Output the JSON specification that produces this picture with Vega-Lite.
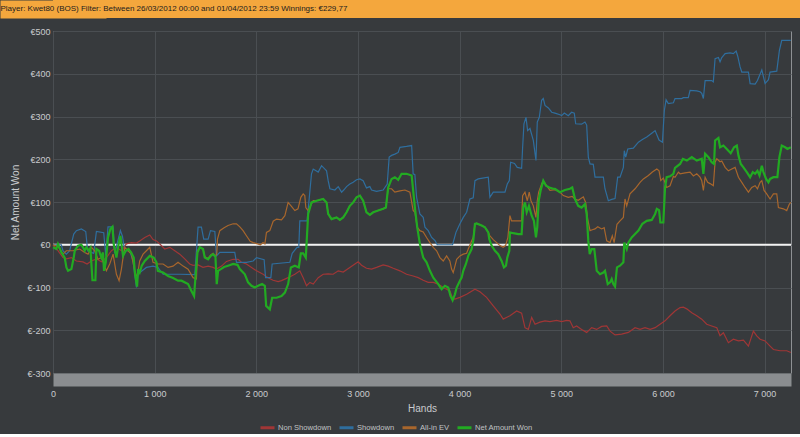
{
  "$schema": "https://vega.github.io/schema/vega-lite/v6.json",
  "background": "#373a3d",
  "padding": 0,
  "spacing": 8,
  "config": {
    "font": "Liberation Sans",
    "view": {"stroke": null},
    "axis": {
      "labelFont": "Liberation Sans",
      "labelFontSize": 9,
      "labelColor": "#c9cbcd",
      "titleFont": "Liberation Sans",
      "titleFontSize": 10,
      "titleFontWeight": "normal",
      "titleColor": "#c9cbcd",
      "gridColor": "#4a4e52",
      "gridWidth": 1,
      "ticks": false,
      "domain": false
    },
    "legend": {
      "labelFont": "Liberation Sans",
      "labelFontSize": 7.6,
      "labelColor": "#c0c2c4",
      "symbolType": "stroke",
      "symbolStrokeWidth": 3,
      "symbolSize": 196,
      "labelOffset": 2,
      "columnPadding": 1
    }
  },
  "datasets": {
    "nonshowdown": [
      {"hands": 0, "amount": 0}, {"hands": 49, "amount": -14}, {"hands": 98, "amount": -30}, {"hands": 131, "amount": -33},
      {"hands": 181, "amount": -30}, {"hands": 230, "amount": -38}, {"hands": 295, "amount": -40}, {"hands": 335, "amount": -45},
      {"hands": 378, "amount": -38}, {"hands": 427, "amount": -33}, {"hands": 476, "amount": -40}, {"hands": 525, "amount": -30},
      {"hands": 575, "amount": -14}, {"hands": 624, "amount": -6}, {"hands": 673, "amount": -14}, {"hands": 722, "amount": 2},
      {"hands": 771, "amount": 5}, {"hands": 821, "amount": 4}, {"hands": 853, "amount": 9}, {"hands": 903, "amount": 17},
      {"hands": 952, "amount": 23}, {"hands": 984, "amount": 12}, {"hands": 1018, "amount": 9}, {"hands": 1050, "amount": 2},
      {"hands": 1099, "amount": -10}, {"hands": 1149, "amount": -6}, {"hands": 1198, "amount": -14}, {"hands": 1247, "amount": -22},
      {"hands": 1296, "amount": -33}, {"hands": 1345, "amount": -45}, {"hands": 1378, "amount": -48}, {"hands": 1427, "amount": -47},
      {"hands": 1476, "amount": -53}, {"hands": 1526, "amount": -50}, {"hands": 1575, "amount": -53}, {"hands": 1608, "amount": -57},
      {"hands": 1658, "amount": -50}, {"hands": 1707, "amount": -39}, {"hands": 1772, "amount": -34}, {"hands": 1821, "amount": -34},
      {"hands": 1854, "amount": -41}, {"hands": 1903, "amount": -45}, {"hands": 1953, "amount": -53}, {"hands": 2002, "amount": -61},
      {"hands": 2067, "amount": -69}, {"hands": 2116, "amount": -77}, {"hands": 2165, "amount": -83}, {"hands": 2215, "amount": -86},
      {"hands": 2248, "amount": -84}, {"hands": 2313, "amount": -77}, {"hands": 2379, "amount": -69}, {"hands": 2428, "amount": -61},
      {"hands": 2461, "amount": -77}, {"hands": 2494, "amount": -96}, {"hands": 2527, "amount": -88}, {"hands": 2560, "amount": -92},
      {"hands": 2609, "amount": -77}, {"hands": 2658, "amount": -69}, {"hands": 2707, "amount": -68}, {"hands": 2756, "amount": -69},
      {"hands": 2806, "amount": -61}, {"hands": 2855, "amount": -64}, {"hands": 2920, "amount": -53}, {"hands": 2970, "amount": -45},
      {"hands": 3002, "amount": -40}, {"hands": 3035, "amount": -48}, {"hands": 3084, "amount": -55}, {"hands": 3134, "amount": -57},
      {"hands": 3183, "amount": -53}, {"hands": 3248, "amount": -47}, {"hands": 3297, "amount": -50}, {"hands": 3347, "amount": -55},
      {"hands": 3413, "amount": -61}, {"hands": 3478, "amount": -69}, {"hands": 3543, "amount": -73}, {"hands": 3593, "amount": -77},
      {"hands": 3642, "amount": -83}, {"hands": 3691, "amount": -88}, {"hands": 3741, "amount": -88}, {"hands": 3790, "amount": -92},
      {"hands": 3839, "amount": -100}, {"hands": 3904, "amount": -108}, {"hands": 3931, "amount": -125}, {"hands": 3954, "amount": -127},
      {"hands": 4003, "amount": -123}, {"hands": 4069, "amount": -116}, {"hands": 4151, "amount": -104}, {"hands": 4200, "amount": -110},
      {"hands": 4265, "amount": -123}, {"hands": 4331, "amount": -143}, {"hands": 4397, "amount": -162}, {"hands": 4429, "amount": -174},
      {"hands": 4495, "amount": -166}, {"hands": 4561, "amount": -155}, {"hands": 4610, "amount": -160}, {"hands": 4643, "amount": -194},
      {"hands": 4676, "amount": -198}, {"hands": 4709, "amount": -170}, {"hands": 4742, "amount": -186}, {"hands": 4790, "amount": -181},
      {"hands": 4840, "amount": -178}, {"hands": 4888, "amount": -180}, {"hands": 4954, "amount": -177}, {"hands": 5004, "amount": -180},
      {"hands": 5053, "amount": -177}, {"hands": 5085, "amount": -178}, {"hands": 5118, "amount": -194}, {"hands": 5151, "amount": -190},
      {"hands": 5200, "amount": -198}, {"hands": 5250, "amount": -205}, {"hands": 5299, "amount": -194}, {"hands": 5348, "amount": -198},
      {"hands": 5397, "amount": -191}, {"hands": 5447, "amount": -190}, {"hands": 5480, "amount": -202}, {"hands": 5529, "amount": -211},
      {"hands": 5594, "amount": -209}, {"hands": 5660, "amount": -205}, {"hands": 5726, "amount": -194}, {"hands": 5775, "amount": -198},
      {"hands": 5824, "amount": -194}, {"hands": 5874, "amount": -198}, {"hands": 5923, "amount": -194}, {"hands": 5972, "amount": -186},
      {"hands": 6021, "amount": -178}, {"hands": 6070, "amount": -166}, {"hands": 6119, "amount": -155}, {"hands": 6169, "amount": -147},
      {"hands": 6201, "amount": -146}, {"hands": 6234, "amount": -150}, {"hands": 6284, "amount": -159}, {"hands": 6333, "amount": -166},
      {"hands": 6382, "amount": -174}, {"hands": 6431, "amount": -186}, {"hands": 6480, "amount": -190}, {"hands": 6530, "amount": -194},
      {"hands": 6562, "amount": -213}, {"hands": 6595, "amount": -206}, {"hands": 6644, "amount": -229}, {"hands": 6693, "amount": -221},
      {"hands": 6743, "amount": -225}, {"hands": 6792, "amount": -223}, {"hands": 6841, "amount": -237}, {"hands": 6890, "amount": -202},
      {"hands": 6923, "amount": -213}, {"hands": 6956, "amount": -221}, {"hands": 7005, "amount": -225}, {"hands": 7054, "amount": -237},
      {"hands": 7087, "amount": -245}, {"hands": 7153, "amount": -248}, {"hands": 7218, "amount": -248}, {"hands": 7258, "amount": -252}
    ],
    "showdown": [
      {"hands": 0, "amount": 0}, {"hands": 82, "amount": 0}, {"hands": 98, "amount": -14}, {"hands": 131, "amount": -22},
      {"hands": 164, "amount": -14}, {"hands": 204, "amount": 25}, {"hands": 230, "amount": 33}, {"hands": 279, "amount": 37},
      {"hands": 322, "amount": 31}, {"hands": 341, "amount": -14}, {"hands": 400, "amount": -20}, {"hands": 427, "amount": 31},
      {"hands": 499, "amount": 28}, {"hands": 519, "amount": -25}, {"hands": 541, "amount": 42}, {"hands": 591, "amount": 42},
      {"hands": 607, "amount": -20}, {"hands": 663, "amount": 33}, {"hands": 683, "amount": 20}, {"hands": 706, "amount": -14},
      {"hands": 755, "amount": -14}, {"hands": 787, "amount": -38}, {"hands": 821, "amount": -100}, {"hands": 837, "amount": -69},
      {"hands": 870, "amount": -62}, {"hands": 919, "amount": -53}, {"hands": 984, "amount": -50}, {"hands": 1033, "amount": -53},
      {"hands": 1083, "amount": -69}, {"hands": 1247, "amount": -69}, {"hands": 1395, "amount": -70}, {"hands": 1427, "amount": 41},
      {"hands": 1460, "amount": 41}, {"hands": 1483, "amount": 13}, {"hands": 1526, "amount": 13}, {"hands": 1549, "amount": 33},
      {"hands": 1592, "amount": 31}, {"hands": 1608, "amount": -26}, {"hands": 1641, "amount": -18}, {"hands": 1788, "amount": -18},
      {"hands": 1805, "amount": -41}, {"hands": 1903, "amount": -41}, {"hands": 1969, "amount": -38}, {"hands": 2002, "amount": -30},
      {"hands": 2077, "amount": -35}, {"hands": 2091, "amount": -77}, {"hands": 2143, "amount": -77}, {"hands": 2156, "amount": -45},
      {"hands": 2330, "amount": -41}, {"hands": 2353, "amount": -20}, {"hands": 2400, "amount": -6}, {"hands": 2418, "amount": -6},
      {"hands": 2428, "amount": 56}, {"hands": 2500, "amount": 56}, {"hands": 2543, "amount": 166}, {"hands": 2560, "amount": 177},
      {"hands": 2609, "amount": 170}, {"hands": 2642, "amount": 185}, {"hands": 2675, "amount": 177}, {"hands": 2691, "amount": 173},
      {"hands": 2707, "amount": 150}, {"hands": 2724, "amount": 131}, {"hands": 2773, "amount": 128}, {"hands": 2806, "amount": 136},
      {"hands": 2839, "amount": 123}, {"hands": 2860, "amount": 128}, {"hands": 2888, "amount": 136}, {"hands": 2920, "amount": 142},
      {"hands": 2953, "amount": 146}, {"hands": 2986, "amount": 152}, {"hands": 3019, "amount": 154}, {"hands": 3051, "amount": 150},
      {"hands": 3084, "amount": 133}, {"hands": 3117, "amount": 136}, {"hands": 3134, "amount": 128}, {"hands": 3183, "amount": 125},
      {"hands": 3248, "amount": 128}, {"hands": 3288, "amount": 142}, {"hands": 3307, "amount": 205}, {"hands": 3331, "amount": 209},
      {"hands": 3363, "amount": 212}, {"hands": 3396, "amount": 216}, {"hands": 3413, "amount": 228}, {"hands": 3478, "amount": 230},
      {"hands": 3528, "amount": 232}, {"hands": 3543, "amount": 166}, {"hands": 3560, "amount": 164}, {"hands": 3577, "amount": 111},
      {"hands": 3609, "amount": 72}, {"hands": 3642, "amount": 64}, {"hands": 3659, "amount": 41}, {"hands": 3691, "amount": 33},
      {"hands": 3725, "amount": 17}, {"hands": 3757, "amount": 10}, {"hands": 3780, "amount": 0}, {"hands": 3931, "amount": 0},
      {"hands": 3964, "amount": 29}, {"hands": 4003, "amount": 49}, {"hands": 4036, "amount": 64}, {"hands": 4069, "amount": 76},
      {"hands": 4101, "amount": 107}, {"hands": 4134, "amount": 110}, {"hands": 4151, "amount": 150}, {"hands": 4183, "amount": 154},
      {"hands": 4282, "amount": 158}, {"hands": 4298, "amount": 111}, {"hands": 4331, "amount": 123}, {"hands": 4446, "amount": 123},
      {"hands": 4469, "amount": 142}, {"hands": 4489, "amount": 150}, {"hands": 4502, "amount": 193}, {"hands": 4540, "amount": 190},
      {"hands": 4567, "amount": 181}, {"hands": 4610, "amount": 179}, {"hands": 4620, "amount": 228}, {"hands": 4633, "amount": 283},
      {"hands": 4653, "amount": 298}, {"hands": 4669, "amount": 267}, {"hands": 4692, "amount": 272}, {"hands": 4725, "amount": 244},
      {"hands": 4751, "amount": 197}, {"hands": 4764, "amount": 287}, {"hands": 4784, "amount": 298}, {"hands": 4807, "amount": 338},
      {"hands": 4823, "amount": 342}, {"hands": 4840, "amount": 326}, {"hands": 4873, "amount": 320}, {"hands": 4906, "amount": 310},
      {"hands": 4938, "amount": 308}, {"hands": 4987, "amount": 304}, {"hands": 5004, "amount": 302}, {"hands": 5030, "amount": 308},
      {"hands": 5069, "amount": 302}, {"hands": 5102, "amount": 310}, {"hands": 5128, "amount": 308}, {"hands": 5142, "amount": 283},
      {"hands": 5200, "amount": 282}, {"hands": 5233, "amount": 287}, {"hands": 5250, "amount": 280}, {"hands": 5266, "amount": 205},
      {"hands": 5283, "amount": 189}, {"hands": 5315, "amount": 188}, {"hands": 5332, "amount": 158}, {"hands": 5414, "amount": 158},
      {"hands": 5430, "amount": 131}, {"hands": 5463, "amount": 103}, {"hands": 5496, "amount": 106}, {"hands": 5529, "amount": 108},
      {"hands": 5555, "amount": 158}, {"hands": 5578, "amount": 158}, {"hands": 5611, "amount": 181}, {"hands": 5620, "amount": 220},
      {"hands": 5634, "amount": 205}, {"hands": 5654, "amount": 224}, {"hands": 5709, "amount": 226}, {"hands": 5759, "amount": 240},
      {"hands": 5798, "amount": 246}, {"hands": 5841, "amount": 252}, {"hands": 5890, "amount": 261}, {"hands": 5923, "amount": 267},
      {"hands": 5962, "amount": 245}, {"hands": 5995, "amount": 240}, {"hands": 6014, "amount": 314}, {"hands": 6031, "amount": 339},
      {"hands": 6053, "amount": 330}, {"hands": 6103, "amount": 332}, {"hands": 6119, "amount": 342}, {"hands": 6185, "amount": 342},
      {"hands": 6201, "amount": 344}, {"hands": 6250, "amount": 344}, {"hands": 6267, "amount": 361}, {"hands": 6333, "amount": 360},
      {"hands": 6365, "amount": 358}, {"hands": 6382, "amount": 354}, {"hands": 6398, "amount": 342}, {"hands": 6415, "amount": 384},
      {"hands": 6480, "amount": 384}, {"hands": 6496, "amount": 381}, {"hands": 6513, "amount": 435}, {"hands": 6546, "amount": 438},
      {"hands": 6562, "amount": 428}, {"hands": 6579, "amount": 438}, {"hands": 6612, "amount": 447}, {"hands": 6661, "amount": 449},
      {"hands": 6693, "amount": 447}, {"hands": 6720, "amount": 453}, {"hands": 6736, "amount": 441}, {"hands": 6759, "amount": 416},
      {"hands": 6776, "amount": 404}, {"hands": 6841, "amount": 404}, {"hands": 6858, "amount": 377}, {"hands": 6907, "amount": 376},
      {"hands": 6930, "amount": 384}, {"hands": 6950, "amount": 396}, {"hands": 6973, "amount": 409}, {"hands": 7005, "amount": 377},
      {"hands": 7038, "amount": 386}, {"hands": 7054, "amount": 404}, {"hands": 7120, "amount": 406}, {"hands": 7146, "amount": 455},
      {"hands": 7169, "amount": 478}, {"hands": 7258, "amount": 478}
    ],
    "allinev": [
      {"hands": 0, "amount": 0}, {"hands": 49, "amount": -4}, {"hands": 98, "amount": -22}, {"hands": 131, "amount": -14},
      {"hands": 197, "amount": -14}, {"hands": 263, "amount": -10}, {"hands": 312, "amount": -18}, {"hands": 345, "amount": -22},
      {"hands": 378, "amount": -6}, {"hands": 410, "amount": -14}, {"hands": 443, "amount": -34}, {"hands": 476, "amount": -30},
      {"hands": 525, "amount": -61}, {"hands": 558, "amount": -45}, {"hands": 591, "amount": -22}, {"hands": 624, "amount": -69},
      {"hands": 650, "amount": -84}, {"hands": 673, "amount": -57}, {"hands": 689, "amount": -30}, {"hands": 706, "amount": -6},
      {"hands": 738, "amount": -14}, {"hands": 771, "amount": -22}, {"hands": 804, "amount": -61}, {"hands": 827, "amount": -77},
      {"hands": 853, "amount": -38}, {"hands": 886, "amount": -22}, {"hands": 919, "amount": -14}, {"hands": 952, "amount": -6},
      {"hands": 984, "amount": -41}, {"hands": 1033, "amount": -45}, {"hands": 1083, "amount": -45}, {"hands": 1132, "amount": -53},
      {"hands": 1181, "amount": -50}, {"hands": 1230, "amount": -41}, {"hands": 1280, "amount": -50}, {"hands": 1329, "amount": -57},
      {"hands": 1378, "amount": -77}, {"hands": 1411, "amount": -80}, {"hands": 1421, "amount": -14}, {"hands": 1444, "amount": -6},
      {"hands": 1476, "amount": -10}, {"hands": 1493, "amount": -28}, {"hands": 1526, "amount": -32}, {"hands": 1552, "amount": -24},
      {"hands": 1575, "amount": -20}, {"hands": 1598, "amount": -26}, {"hands": 1611, "amount": -22}, {"hands": 1618, "amount": 13},
      {"hands": 1641, "amount": 33}, {"hands": 1683, "amount": 40}, {"hands": 1722, "amount": 45}, {"hands": 1772, "amount": 49},
      {"hands": 1805, "amount": 49}, {"hands": 1838, "amount": 42}, {"hands": 1870, "amount": 33}, {"hands": 1903, "amount": 21},
      {"hands": 1940, "amount": 8}, {"hands": 1970, "amount": 5}, {"hands": 2012, "amount": 2}, {"hands": 2040, "amount": 0},
      {"hands": 2067, "amount": 5}, {"hands": 2084, "amount": 2}, {"hands": 2100, "amount": 29}, {"hands": 2133, "amount": 33},
      {"hands": 2166, "amount": 55}, {"hands": 2199, "amount": 60}, {"hands": 2248, "amount": 58}, {"hands": 2281, "amount": 68},
      {"hands": 2313, "amount": 99}, {"hands": 2346, "amount": 90}, {"hands": 2379, "amount": 80}, {"hands": 2410, "amount": 84},
      {"hands": 2438, "amount": 111}, {"hands": 2461, "amount": 119}, {"hands": 2477, "amount": 115}, {"hands": 2487, "amount": 87},
      {"hands": 2510, "amount": 80}, {"hands": 2530, "amount": 90}, {"hands": 2560, "amount": 103}, {"hands": 2593, "amount": 103},
      {"hands": 2658, "amount": 107}, {"hands": 2691, "amount": 99}, {"hands": 2707, "amount": 72}, {"hands": 2740, "amount": 60},
      {"hands": 2789, "amount": 64}, {"hands": 2822, "amount": 58}, {"hands": 2855, "amount": 64}, {"hands": 2888, "amount": 76},
      {"hands": 2920, "amount": 91}, {"hands": 2953, "amount": 99}, {"hands": 2986, "amount": 111}, {"hands": 3019, "amount": 115},
      {"hands": 3051, "amount": 103}, {"hands": 3084, "amount": 76}, {"hands": 3117, "amount": 70}, {"hands": 3150, "amount": 76},
      {"hands": 3199, "amount": 80}, {"hands": 3248, "amount": 84}, {"hands": 3275, "amount": 87}, {"hands": 3297, "amount": 131},
      {"hands": 3331, "amount": 131}, {"hands": 3363, "amount": 123}, {"hands": 3413, "amount": 126}, {"hands": 3462, "amount": 128},
      {"hands": 3511, "amount": 123}, {"hands": 3543, "amount": 80}, {"hands": 3560, "amount": 76}, {"hands": 3583, "amount": 41},
      {"hands": 3609, "amount": 33}, {"hands": 3642, "amount": 30}, {"hands": 3675, "amount": 17}, {"hands": 3708, "amount": 5},
      {"hands": 3741, "amount": -6}, {"hands": 3774, "amount": -14}, {"hands": 3806, "amount": -30}, {"hands": 3839, "amount": -38},
      {"hands": 3872, "amount": -26}, {"hands": 3904, "amount": -38}, {"hands": 3921, "amount": -57}, {"hands": 3937, "amount": -65},
      {"hands": 3954, "amount": -50}, {"hands": 3971, "amount": -34}, {"hands": 4003, "amount": -26}, {"hands": 4036, "amount": -22},
      {"hands": 4069, "amount": -20}, {"hands": 4085, "amount": -10}, {"hands": 4118, "amount": 9}, {"hands": 4134, "amount": 17},
      {"hands": 4151, "amount": 49}, {"hands": 4167, "amount": 50}, {"hands": 4217, "amount": 45}, {"hands": 4249, "amount": 41},
      {"hands": 4282, "amount": 29}, {"hands": 4298, "amount": 21}, {"hands": 4331, "amount": 12}, {"hands": 4364, "amount": 5},
      {"hands": 4397, "amount": -2}, {"hands": 4429, "amount": -6}, {"hands": 4452, "amount": -2}, {"hands": 4475, "amount": 17},
      {"hands": 4495, "amount": 68}, {"hands": 4511, "amount": 56}, {"hands": 4577, "amount": 56}, {"hands": 4610, "amount": 56},
      {"hands": 4620, "amount": 115}, {"hands": 4643, "amount": 123}, {"hands": 4666, "amount": 103}, {"hands": 4685, "amount": 123},
      {"hands": 4702, "amount": 103}, {"hands": 4725, "amount": 91}, {"hands": 4751, "amount": 64}, {"hands": 4764, "amount": 103},
      {"hands": 4778, "amount": 123}, {"hands": 4807, "amount": 142}, {"hands": 4823, "amount": 150}, {"hands": 4856, "amount": 138},
      {"hands": 4889, "amount": 127}, {"hands": 4938, "amount": 129}, {"hands": 4987, "amount": 123}, {"hands": 5020, "amount": 115},
      {"hands": 5069, "amount": 111}, {"hands": 5108, "amount": 113}, {"hands": 5135, "amount": 107}, {"hands": 5167, "amount": 104},
      {"hands": 5217, "amount": 112}, {"hands": 5240, "amount": 99}, {"hands": 5260, "amount": 60}, {"hands": 5283, "amount": 33},
      {"hands": 5306, "amount": 35}, {"hands": 5332, "amount": 37}, {"hands": 5359, "amount": 42}, {"hands": 5397, "amount": 37},
      {"hands": 5422, "amount": 40}, {"hands": 5447, "amount": 9}, {"hands": 5480, "amount": 5}, {"hands": 5502, "amount": 21},
      {"hands": 5520, "amount": 5}, {"hands": 5548, "amount": 48}, {"hands": 5578, "amount": 56}, {"hands": 5611, "amount": 64},
      {"hands": 5627, "amount": 107}, {"hands": 5644, "amount": 91}, {"hands": 5676, "amount": 119}, {"hands": 5726, "amount": 131},
      {"hands": 5775, "amount": 146}, {"hands": 5808, "amount": 154}, {"hands": 5857, "amount": 162}, {"hands": 5896, "amount": 170},
      {"hands": 5940, "amount": 177}, {"hands": 5962, "amount": 173}, {"hands": 5979, "amount": 150}, {"hands": 6004, "amount": 156},
      {"hands": 6037, "amount": 134}, {"hands": 6070, "amount": 138}, {"hands": 6103, "amount": 160}, {"hands": 6119, "amount": 158},
      {"hands": 6152, "amount": 170}, {"hands": 6169, "amount": 166}, {"hands": 6218, "amount": 168}, {"hands": 6267, "amount": 170},
      {"hands": 6300, "amount": 161}, {"hands": 6333, "amount": 166}, {"hands": 6365, "amount": 158}, {"hands": 6382, "amount": 150},
      {"hands": 6398, "amount": 127}, {"hands": 6415, "amount": 158}, {"hands": 6440, "amount": 146}, {"hands": 6464, "amount": 143},
      {"hands": 6496, "amount": 138}, {"hands": 6513, "amount": 193}, {"hands": 6530, "amount": 201}, {"hands": 6562, "amount": 194},
      {"hands": 6579, "amount": 196}, {"hands": 6612, "amount": 181}, {"hands": 6644, "amount": 173}, {"hands": 6677, "amount": 177},
      {"hands": 6710, "amount": 181}, {"hands": 6743, "amount": 158}, {"hands": 6776, "amount": 146}, {"hands": 6808, "amount": 134},
      {"hands": 6841, "amount": 123}, {"hands": 6874, "amount": 134}, {"hands": 6907, "amount": 138}, {"hands": 6930, "amount": 131},
      {"hands": 6956, "amount": 146}, {"hands": 6973, "amount": 150}, {"hands": 6995, "amount": 127}, {"hands": 7021, "amount": 119},
      {"hands": 7054, "amount": 107}, {"hands": 7087, "amount": 119}, {"hands": 7120, "amount": 119}, {"hands": 7136, "amount": 87},
      {"hands": 7185, "amount": 84}, {"hands": 7218, "amount": 80}, {"hands": 7244, "amount": 95}, {"hands": 7258, "amount": 99}
    ],
    "netwon": [
      {"hands": 0, "amount": -6}, {"hands": 33, "amount": -10}, {"hands": 49, "amount": 2}, {"hands": 83, "amount": -18},
      {"hands": 115, "amount": -30}, {"hands": 132, "amount": -53}, {"hands": 148, "amount": -61}, {"hands": 181, "amount": -57},
      {"hands": 204, "amount": -30}, {"hands": 214, "amount": -14}, {"hands": 246, "amount": -2}, {"hands": 279, "amount": 0},
      {"hands": 295, "amount": -6}, {"hands": 312, "amount": -14}, {"hands": 328, "amount": -6}, {"hands": 354, "amount": -14},
      {"hands": 368, "amount": -8}, {"hands": 388, "amount": -83}, {"hands": 417, "amount": -83}, {"hands": 427, "amount": -10},
      {"hands": 453, "amount": -14}, {"hands": 476, "amount": -30}, {"hands": 492, "amount": -18}, {"hands": 502, "amount": -61},
      {"hands": 519, "amount": -41}, {"hands": 541, "amount": 17}, {"hands": 565, "amount": 37}, {"hands": 585, "amount": 42},
      {"hands": 597, "amount": 2}, {"hands": 610, "amount": -14}, {"hands": 624, "amount": -30}, {"hands": 640, "amount": -6},
      {"hands": 663, "amount": 21}, {"hands": 689, "amount": -26}, {"hands": 716, "amount": -14}, {"hands": 742, "amount": -10},
      {"hands": 768, "amount": -18}, {"hands": 794, "amount": -30}, {"hands": 807, "amount": -69}, {"hands": 827, "amount": -98},
      {"hands": 837, "amount": -57}, {"hands": 853, "amount": -65}, {"hands": 873, "amount": -49}, {"hands": 903, "amount": -38},
      {"hands": 952, "amount": -26}, {"hands": 991, "amount": -30}, {"hands": 1018, "amount": -41}, {"hands": 1031, "amount": -61},
      {"hands": 1083, "amount": -65}, {"hands": 1132, "amount": -73}, {"hands": 1181, "amount": -78}, {"hands": 1230, "amount": -84},
      {"hands": 1264, "amount": -84}, {"hands": 1329, "amount": -92}, {"hands": 1362, "amount": -108}, {"hands": 1388, "amount": -120},
      {"hands": 1401, "amount": -77}, {"hands": 1421, "amount": -18}, {"hands": 1444, "amount": -6}, {"hands": 1476, "amount": -10},
      {"hands": 1493, "amount": -30}, {"hands": 1526, "amount": -34}, {"hands": 1552, "amount": -26}, {"hands": 1575, "amount": -22},
      {"hands": 1598, "amount": -28}, {"hands": 1611, "amount": -92}, {"hands": 1624, "amount": -61}, {"hands": 1651, "amount": -57},
      {"hands": 1683, "amount": -52}, {"hands": 1722, "amount": -49}, {"hands": 1772, "amount": -45}, {"hands": 1815, "amount": -47},
      {"hands": 1838, "amount": -57}, {"hands": 1887, "amount": -69}, {"hands": 1919, "amount": -88}, {"hands": 1953, "amount": -96},
      {"hands": 1985, "amount": -100}, {"hands": 2018, "amount": -96}, {"hands": 2057, "amount": -92}, {"hands": 2084, "amount": -96},
      {"hands": 2097, "amount": -143}, {"hands": 2133, "amount": -151}, {"hands": 2156, "amount": -124}, {"hands": 2199, "amount": -124},
      {"hands": 2248, "amount": -120}, {"hands": 2281, "amount": -112}, {"hands": 2313, "amount": -92}, {"hands": 2340, "amount": -53},
      {"hands": 2379, "amount": -49}, {"hands": 2418, "amount": -53}, {"hands": 2438, "amount": -20}, {"hands": 2461, "amount": -20},
      {"hands": 2487, "amount": -30}, {"hands": 2510, "amount": 72}, {"hands": 2543, "amount": 99}, {"hands": 2593, "amount": 103},
      {"hands": 2658, "amount": 107}, {"hands": 2691, "amount": 99}, {"hands": 2707, "amount": 72}, {"hands": 2740, "amount": 60},
      {"hands": 2789, "amount": 64}, {"hands": 2822, "amount": 58}, {"hands": 2855, "amount": 64}, {"hands": 2888, "amount": 76},
      {"hands": 2920, "amount": 91}, {"hands": 2953, "amount": 99}, {"hands": 2986, "amount": 111}, {"hands": 3019, "amount": 115},
      {"hands": 3051, "amount": 103}, {"hands": 3084, "amount": 76}, {"hands": 3117, "amount": 70}, {"hands": 3150, "amount": 76},
      {"hands": 3199, "amount": 80}, {"hands": 3248, "amount": 84}, {"hands": 3275, "amount": 87}, {"hands": 3297, "amount": 134},
      {"hands": 3331, "amount": 154}, {"hands": 3363, "amount": 158}, {"hands": 3396, "amount": 152}, {"hands": 3429, "amount": 166},
      {"hands": 3478, "amount": 166}, {"hands": 3528, "amount": 162}, {"hands": 3543, "amount": 127}, {"hands": 3560, "amount": 87},
      {"hands": 3583, "amount": 41}, {"hands": 3609, "amount": 2}, {"hands": 3642, "amount": -30}, {"hands": 3675, "amount": -41},
      {"hands": 3708, "amount": -61}, {"hands": 3741, "amount": -77}, {"hands": 3790, "amount": -92}, {"hands": 3823, "amount": -104},
      {"hands": 3855, "amount": -96}, {"hands": 3888, "amount": -100}, {"hands": 3911, "amount": -120}, {"hands": 3931, "amount": -130},
      {"hands": 3954, "amount": -116}, {"hands": 3971, "amount": -100}, {"hands": 4003, "amount": -84}, {"hands": 4020, "amount": -77},
      {"hands": 4036, "amount": -61}, {"hands": 4062, "amount": -45}, {"hands": 4085, "amount": -26}, {"hands": 4118, "amount": -10},
      {"hands": 4134, "amount": 9}, {"hands": 4151, "amount": 49}, {"hands": 4167, "amount": 50}, {"hands": 4217, "amount": 45},
      {"hands": 4249, "amount": 41}, {"hands": 4282, "amount": 29}, {"hands": 4292, "amount": 13}, {"hands": 4315, "amount": -2},
      {"hands": 4348, "amount": -14}, {"hands": 4380, "amount": -22}, {"hands": 4413, "amount": -38}, {"hands": 4436, "amount": -53},
      {"hands": 4456, "amount": -49}, {"hands": 4469, "amount": -30}, {"hands": 4489, "amount": -14}, {"hands": 4495, "amount": 29},
      {"hands": 4528, "amount": 27}, {"hands": 4577, "amount": 25}, {"hands": 4610, "amount": 25}, {"hands": 4626, "amount": 87},
      {"hands": 4643, "amount": 99}, {"hands": 4660, "amount": 76}, {"hands": 4682, "amount": 91}, {"hands": 4709, "amount": 68},
      {"hands": 4731, "amount": 56}, {"hands": 4751, "amount": 17}, {"hands": 4764, "amount": 41}, {"hands": 4778, "amount": 103},
      {"hands": 4797, "amount": 127}, {"hands": 4823, "amount": 150}, {"hands": 4850, "amount": 138}, {"hands": 4882, "amount": 134},
      {"hands": 4922, "amount": 131}, {"hands": 4938, "amount": 131}, {"hands": 4987, "amount": 123}, {"hands": 5036, "amount": 128},
      {"hands": 5085, "amount": 131}, {"hands": 5108, "amount": 134}, {"hands": 5135, "amount": 107}, {"hands": 5167, "amount": 91},
      {"hands": 5200, "amount": 87}, {"hands": 5233, "amount": 95}, {"hands": 5250, "amount": 72}, {"hands": 5266, "amount": 9},
      {"hands": 5280, "amount": -22}, {"hands": 5299, "amount": -10}, {"hands": 5325, "amount": -10}, {"hands": 5349, "amount": -61},
      {"hands": 5381, "amount": -69}, {"hands": 5414, "amount": -65}, {"hands": 5430, "amount": -61}, {"hands": 5457, "amount": -92},
      {"hands": 5480, "amount": -88}, {"hands": 5496, "amount": -80}, {"hands": 5512, "amount": -92}, {"hands": 5529, "amount": -98},
      {"hands": 5548, "amount": -53}, {"hands": 5578, "amount": -49}, {"hands": 5611, "amount": -41}, {"hands": 5620, "amount": 5},
      {"hands": 5644, "amount": -10}, {"hands": 5660, "amount": 5}, {"hands": 5693, "amount": 17}, {"hands": 5726, "amount": 25},
      {"hands": 5759, "amount": 33}, {"hands": 5798, "amount": 49}, {"hands": 5841, "amount": 56}, {"hands": 5890, "amount": 58},
      {"hands": 5923, "amount": 72}, {"hands": 5940, "amount": 84}, {"hands": 5962, "amount": 81}, {"hands": 5975, "amount": 52},
      {"hands": 6004, "amount": 52}, {"hands": 6021, "amount": 134}, {"hands": 6037, "amount": 158}, {"hands": 6070, "amount": 160},
      {"hands": 6103, "amount": 166}, {"hands": 6119, "amount": 180}, {"hands": 6169, "amount": 189}, {"hands": 6196, "amount": 201},
      {"hands": 6235, "amount": 197}, {"hands": 6284, "amount": 205}, {"hands": 6333, "amount": 197}, {"hands": 6382, "amount": 201},
      {"hands": 6398, "amount": 166}, {"hands": 6415, "amount": 213}, {"hands": 6448, "amount": 205}, {"hands": 6480, "amount": 193},
      {"hands": 6503, "amount": 189}, {"hands": 6513, "amount": 244}, {"hands": 6546, "amount": 250}, {"hands": 6562, "amount": 228},
      {"hands": 6595, "amount": 232}, {"hands": 6628, "amount": 224}, {"hands": 6667, "amount": 214}, {"hands": 6700, "amount": 228},
      {"hands": 6727, "amount": 232}, {"hands": 6743, "amount": 209}, {"hands": 6766, "amount": 189}, {"hands": 6792, "amount": 181},
      {"hands": 6825, "amount": 170}, {"hands": 6858, "amount": 158}, {"hands": 6884, "amount": 170}, {"hands": 6907, "amount": 166},
      {"hands": 6930, "amount": 173}, {"hands": 6950, "amount": 162}, {"hands": 6973, "amount": 185}, {"hands": 6989, "amount": 170},
      {"hands": 7015, "amount": 154}, {"hands": 7038, "amount": 146}, {"hands": 7054, "amount": 154}, {"hands": 7087, "amount": 158},
      {"hands": 7126, "amount": 158}, {"hands": 7146, "amount": 205}, {"hands": 7169, "amount": 232}, {"hands": 7202, "amount": 228},
      {"hands": 7225, "amount": 224}, {"hands": 7258, "amount": 228}
    ]
  },
  "vconcat": [
    {
      "width": 747,
      "height": 18,
      "view": {"fill": "#f4a73d", "stroke": null},
      "data": {"values": [{}]},
      "mark": {"type": "point", "opacity": 0, "size": 1},
      "encoding": {
        "y": {
          "datum": 0.5, "type": "quantitative",
          "scale": {"domain": [0, 1]},
          "axis": {
            "domain": true,
            "domainColor": "#f4a73d",
            "domainWidth": 106,
            "labels": false,
            "ticks": false,
            "grid": false,
            "title": "\u00a0Player: Kwet80 (BOS) Filter: Between 26/03/2012 00:00 and 01/04/2012 23:59 Winnings: €229,77",
            "titleAngle": 0,
            "titleAlign": "left",
            "titleBaseline": "middle",
            "titleX": -53,
            "titleY": 8,
            "titleFont": "Liberation Sans",
            "titleFontSize": 8,
            "titleFontWeight": "normal",
            "titleColor": "#1d1d1d"
          }
        }
      }
    },
    {
      "width": 738,
      "height": 342,
      "view": {"stroke": "#8e9194", "strokeWidth": 1},
      "layer": [
        {
          "data": {"values": [{}]},
          "mark": {"type": "rule", "color": "#f2f2f2", "strokeWidth": 2},
          "encoding": {"y": {"datum": 0, "type": "quantitative"}}
        },
        {
          "data": {"name": "nonshowdown"},
          "mark": {"type": "line", "strokeWidth": 1.2},
          "encoding": {
            "x": {
              "field": "hands", "type": "quantitative",
              "scale": {"domain": [0, 7260], "nice": false, "zero": false},
              "axis": {
                "title": "Hands",
                "values": [0, 1000, 2000, 3000, 4000, 5000, 6000, 7000],
                "labelExpr": "replace(format(datum.value, ','), ',', ' ')",
                "grid": true,
                "domain": true,
                "domainColor": "#8a8d90",
                "domainWidth": 13,
                "offset": 6.5,
                "labelPadding": 10,
                "titlePadding": 5,
                "labelFlush": false
              }
            },
            "y": {
              "field": "amount", "type": "quantitative",
              "scale": {"domain": [-300, 500], "nice": false},
              "axis": {
                "title": "Net Amount Won",
                "values": [-300, -200, -100, 0, 100, 200, 300, 400, 500],
                "labelExpr": "'€' + datum.value",
                "grid": true,
                "labelPadding": 3,
                "titlePadding": 6
              }
            },
            "color": {
              "datum": "Non Showdown", "type": "nominal",
              "scale": {
                "domain": ["Non Showdown", "Showdown", "All-in EV", "Net Amount Won"],
                "range": ["#a03636", "#2f6e9e", "#a8662c", "#22aa22"]
              },
              "legend": {"title": null, "orient": "none", "direction": "horizontal", "legendX": 206, "legendY": 419}
            }
          }
        },
        {
          "data": {"name": "showdown"},
          "mark": {"type": "line", "strokeWidth": 1.2},
          "encoding": {
            "x": {"field": "hands", "type": "quantitative"},
            "y": {"field": "amount", "type": "quantitative"},
            "color": {"datum": "Showdown", "type": "nominal"}
          }
        },
        {
          "data": {"name": "allinev"},
          "mark": {"type": "line", "strokeWidth": 1.2},
          "encoding": {
            "x": {"field": "hands", "type": "quantitative"},
            "y": {"field": "amount", "type": "quantitative"},
            "color": {"datum": "All-in EV", "type": "nominal"}
          }
        },
        {
          "data": {"name": "netwon"},
          "mark": {"type": "line", "strokeWidth": 2.2},
          "encoding": {
            "x": {"field": "hands", "type": "quantitative"},
            "y": {"field": "amount", "type": "quantitative"},
            "color": {"datum": "Net Amount Won", "type": "nominal"}
          }
        }
      ]
    }
  ]
}
